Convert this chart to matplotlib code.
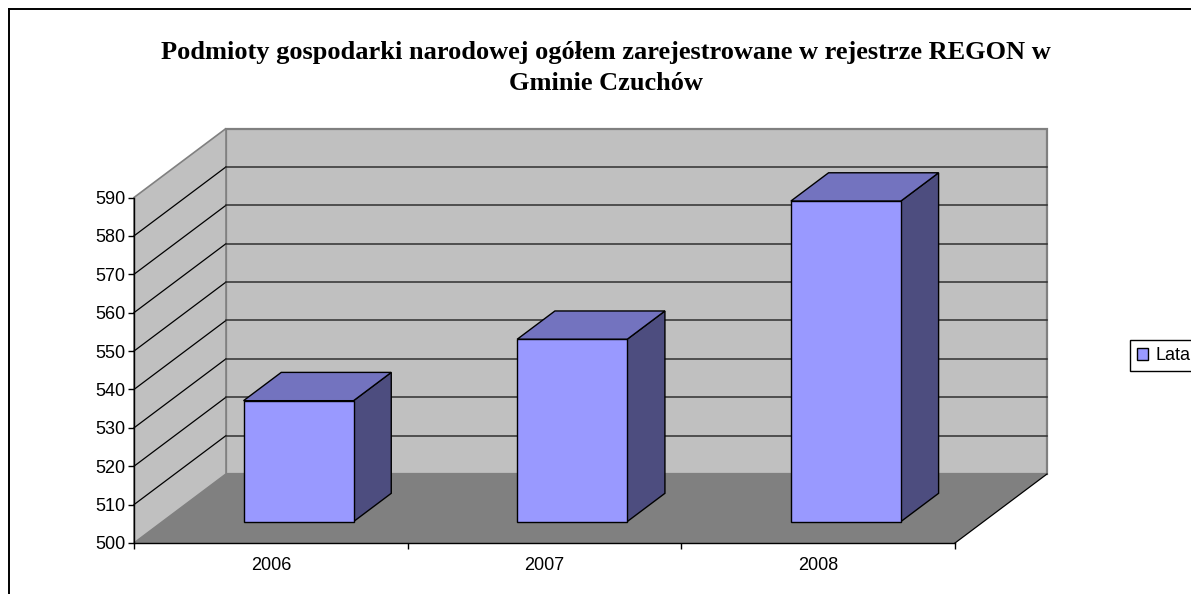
import matplotlib
matplotlib.use("Agg")
import matplotlib.pyplot as plt
from matplotlib.patches import Polygon, Rectangle

lata = ["2006", "2007", "2008"]
podmioty = [531.5, 547.5, 583.5]
y_ticks = [500, 510, 520, 530, 540, 550, 560, 570, 580, 590]

W, H = 1191, 594
Y_MIN, Y_MAX = 500, 590
# glebokosc wykresu 3D w jednostkach osi
DX = 92 / (821 / 3)
DY = 69 / (345.5 / 90)
BAR_W = 0.402
D_FRONT, D_BACK = 0.31, 0.72

FRONT = "#9999ff"
TOP = "#7373bf"
SIDE = "#4d4d7f"

plt.rcParams["font.family"] = ["Liberation Sans", "DejaVu Sans"]

fig = plt.figure(figsize=(W / 100, H / 100), dpi=100)
ax = fig.add_axes([134 / W, 1 - 543 / H, 821 / W, 345.5 / H])
ax.set_xlim(0, len(lata))
ax.set_ylim(Y_MIN, Y_MAX)
ax.patch.set_visible(False)


def p(x, y, d=0.0):
    return (x + d * DX, y + d * DY)


def poly(pts, fc, ec="black", lw=1.0, z=2):
    ax.add_patch(Polygon(pts, closed=True, facecolor=fc, edgecolor=ec, linewidth=lw,
                         zorder=z, clip_on=False, joinstyle="miter"))


n = len(lata)
# sciany i podloga
poly([p(0, Y_MIN, 1), p(n, Y_MIN, 1), p(n, Y_MAX, 1), p(0, Y_MAX, 1)], "#c0c0c0", "#808080", 1.6, 1)
poly([p(0, Y_MIN), p(0, Y_MIN, 1), p(0, Y_MAX, 1), p(0, Y_MAX)], "#c0c0c0", "#808080", 1.2, 1)
poly([p(0, Y_MIN), p(n, Y_MIN), p(n, Y_MIN, 1), p(0, Y_MIN, 1)], "#808080", "none", 0, 1)

# siatka
for v in y_ticks[1:-1]:
    x0, y0 = p(0, v)
    x1, y1 = p(0, v, 1)
    x2, y2 = p(n, v, 1)
    ax.plot([x0, x1], [y0, y1], color="black", lw=0.9, zorder=1.5, clip_on=False)
    ax.plot([x1, x2], [y1, y2], color="#303030", lw=1.1, zorder=1.5, clip_on=False)

# krawedz podlogi po prawej
ax.plot(*zip(p(n, Y_MIN), p(n, Y_MIN, 1)), color="black", lw=0.9, zorder=1.6, clip_on=False)

# slupki
for i, v in enumerate(podmioty):
    l = i + 0.5 - BAR_W / 2 - 0.003
    r = i + 0.5 + BAR_W / 2 - 0.003
    poly([p(r, Y_MIN, D_FRONT), p(r, Y_MIN, D_BACK), p(r, v, D_BACK), p(r, v, D_FRONT)], SIDE)
    poly([p(l, v, D_FRONT), p(r, v, D_FRONT), p(r, v, D_BACK), p(l, v, D_BACK)], TOP)
    poly([p(l, Y_MIN, D_FRONT), p(r, Y_MIN, D_FRONT), p(r, v, D_FRONT), p(l, v, D_FRONT)], FRONT)

for s in ["top", "right"]:
    ax.spines[s].set_visible(False)
for s in ["left", "bottom"]:
    ax.spines[s].set_linewidth(1.0)
    ax.spines[s].set_zorder(3)

ax.set_yticks(y_ticks)
ax.set_xticks(range(n + 1))
ax.set_xticklabels([])
ax.set_xticks([i + 0.5 for i in range(n)], lata, minor=True)
ax.tick_params(axis="x", which="minor", length=0, labelsize=13, pad=10)
ax.tick_params(axis="x", which="major", length=4.5, width=1)
ax.tick_params(axis="y", length=4.5, width=1, labelsize=13, pad=1.5)

fig.text(606 / W, 1 - 52 / H, "Podmioty gospodarki narodowej ogółem zarejestrowane w rejestrze REGON w",
         family="Liberation Serif", weight="bold", fontsize=19, ha="center", va="center")
fig.text(606 / W, 1 - 84 / H, "Gminie Czuchów",
         family="Liberation Serif", weight="bold", fontsize=19, ha="center", va="center")

# ramka obszaru wykresu
fig.add_artist(plt.Line2D([9 / W, 9 / W], [0, 1 - 9 / H], color="black", lw=1.4))
fig.add_artist(plt.Line2D([9 / W, 1], [1 - 9 / H, 1 - 9 / H], color="black", lw=1.4))

# legenda
fig.legend(handles=[Rectangle((0, 0), 1, 1, facecolor=FRONT, edgecolor="black", linewidth=1.0)],
           labels=["Lata"], loc="upper left", bbox_to_anchor=(1130 / W, 1 - 340 / H),
           borderaxespad=0, fancybox=False, framealpha=1, edgecolor="black", fontsize=13,
           handlelength=0.6, handleheight=0.6, handletextpad=0.4, borderpad=0.4)

fig.savefig("out.png", dpi=100)
